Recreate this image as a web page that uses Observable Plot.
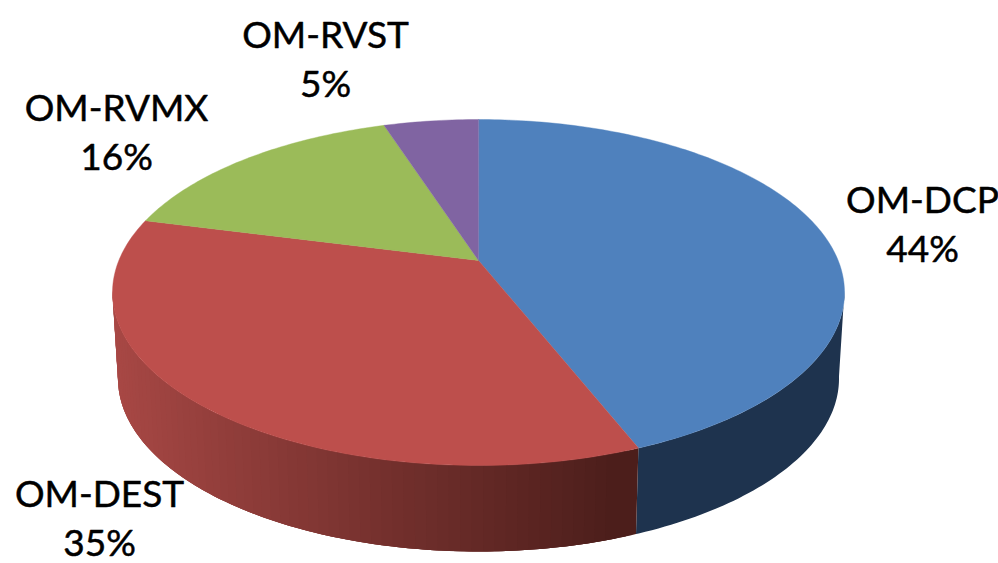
<!DOCTYPE html>
<html>
<head>
<meta charset="utf-8">
<script src="https://cdn.jsdelivr.net/npm/d3@7"></script>
<script src="https://cdn.jsdelivr.net/npm/@observablehq/plot@0.6"></script>
<style>
html,body{margin:0;padding:0;background:#fff;overflow:hidden}
svg{display:block}
</style>
</head>
<body>
<div id="chart"></div>
<script>
// Data
const categories = ["OM-DCP", "OM-DEST", "OM-RVMX", "OM-RVST"];
const shares = [44, 35, 16, 5];

// Styles and layout, kept apart from the data
const topColors = ["#4f81bd", "#bd4f4c", "#9bbb59", "#8064a2"];
const labelX = [922, 99, 116, 325];
const nameBaseline = [212, 506, 120, 47];
const lineGap = 49;
const fontSize = 37;

// Perspective view of the pie disc: a circle through a homography
const cx = 478, cy = 292, rx = 366, ry = 173, centerShift = -32;
const k = -centerShift / ry;
const c = rx * Math.sqrt(1 - k * k);
const depth = 86, bottomScale = 0.985;

function rim(angleDeg, r = 1) {
  const a = angleDeg * Math.PI / 180;
  const u = r * Math.sin(a), v = r * Math.cos(a);
  const d = 1 + k * v;
  return {dx: c * u / d, dy: (-ry * v + centerShift) / d};
}
const topPoint = (angle, r = 1) => {
  const p = rim(angle, r);
  return {x: cx + p.dx, y: cy + p.dy};
};
const bottomPoint = angle => {
  const p = rim(angle);
  return {x: cx + p.dx * bottomScale, y: cy + depth + p.dy};
};

// Cumulative angles from the shares
const total = d3.sum(shares);
let running = 0;
const arcs = shares.map((s, i) => {
  const start = running / total * 360;
  running += s;
  return {i, name: categories[i], start, end: running / total * 360};
});

// Top face wedges
const wedgePoints = arcs.flatMap(arc => {
  const pts = [{...topPoint(0, 0), slice: arc.name, color: topColors[arc.i]}];
  const n = Math.ceil(arc.end - arc.start);
  for (let j = 0; j <= n; ++j) {
    const p = topPoint(arc.start + (arc.end - arc.start) * j / n);
    pts.push({...p, slice: arc.name, color: topColors[arc.i]});
  }
  return pts;
});

// Side wall: one dark blue piece, then red bands shaded left to right
const wallStart = 100, wallEnd = 260, wallStep = 1.5, wallOverlap = 3;
const redShade = d3.scaleLinear().domain([115, 635]).range(["#a84845", "#4c1e1b"]).clamp(true);
const blueWall = "#1e334e";
const split = arcs[0].end;
const wallPoints = [];
function wallPiece(from, to, id, color) {
  const a = d3.range(from, to, 1).concat([to]);
  a.forEach(t => wallPoints.push({...topPoint(t), slice: id, color}));
  a.slice().reverse().forEach(t => wallPoints.push({...bottomPoint(t), slice: id, color}));
}
wallPiece(wallStart, split, "wall-blue", blueWall);
// Each band runs to the left past its own end; the bands are drawn from left to right so each covers the previous one's seam
const bandStops = d3.range(split, wallEnd, wallStep).reverse();
bandStops.forEach((a, j) => {
  const b = Math.min(a + wallStep + wallOverlap, wallEnd);
  wallPiece(a, b, "wall-red-" + j, redShade(topPoint(a + wallStep / 2).x));
});

const labels = categories.map((name, i) => ({
  name, pct: shares[i] + "%", x: labelX[i], y: nameBaseline[i]
}));

const textOpts = {
  x: "x",
  textAnchor: "middle",
  lineAnchor: "bottom",
  fontFamily: "Lato, Carlito, sans-serif",
  fontSize,
  fill: "#000",
  stroke: "#000",
  strokeWidth: 0.5
};

const chart = Plot.plot({
  width: 998,
  height: 563,
  margin: 0,
  x: {domain: [0, 998], range: [0, 998], axis: null},
  y: {domain: [0, 563], range: [0, 563], axis: null},
  style: {background: "#fff"},
  marks: [
    Plot.line(wallPoints, {x: "x", y: "y", z: "slice", fill: "color", curve: "linear-closed"}),
    Plot.line(wedgePoints, {x: "x", y: "y", z: "slice", fill: "color", stroke: "color", strokeWidth: 0.4, curve: "linear-closed"}),
    Plot.text(labels, {...textOpts, y: "y", text: "name"}),
    Plot.text(labels, {...textOpts, y: d => d.y + lineGap, text: "pct"})
  ]
});
document.getElementById("chart").append(chart);
</script>
</body>
</html>
